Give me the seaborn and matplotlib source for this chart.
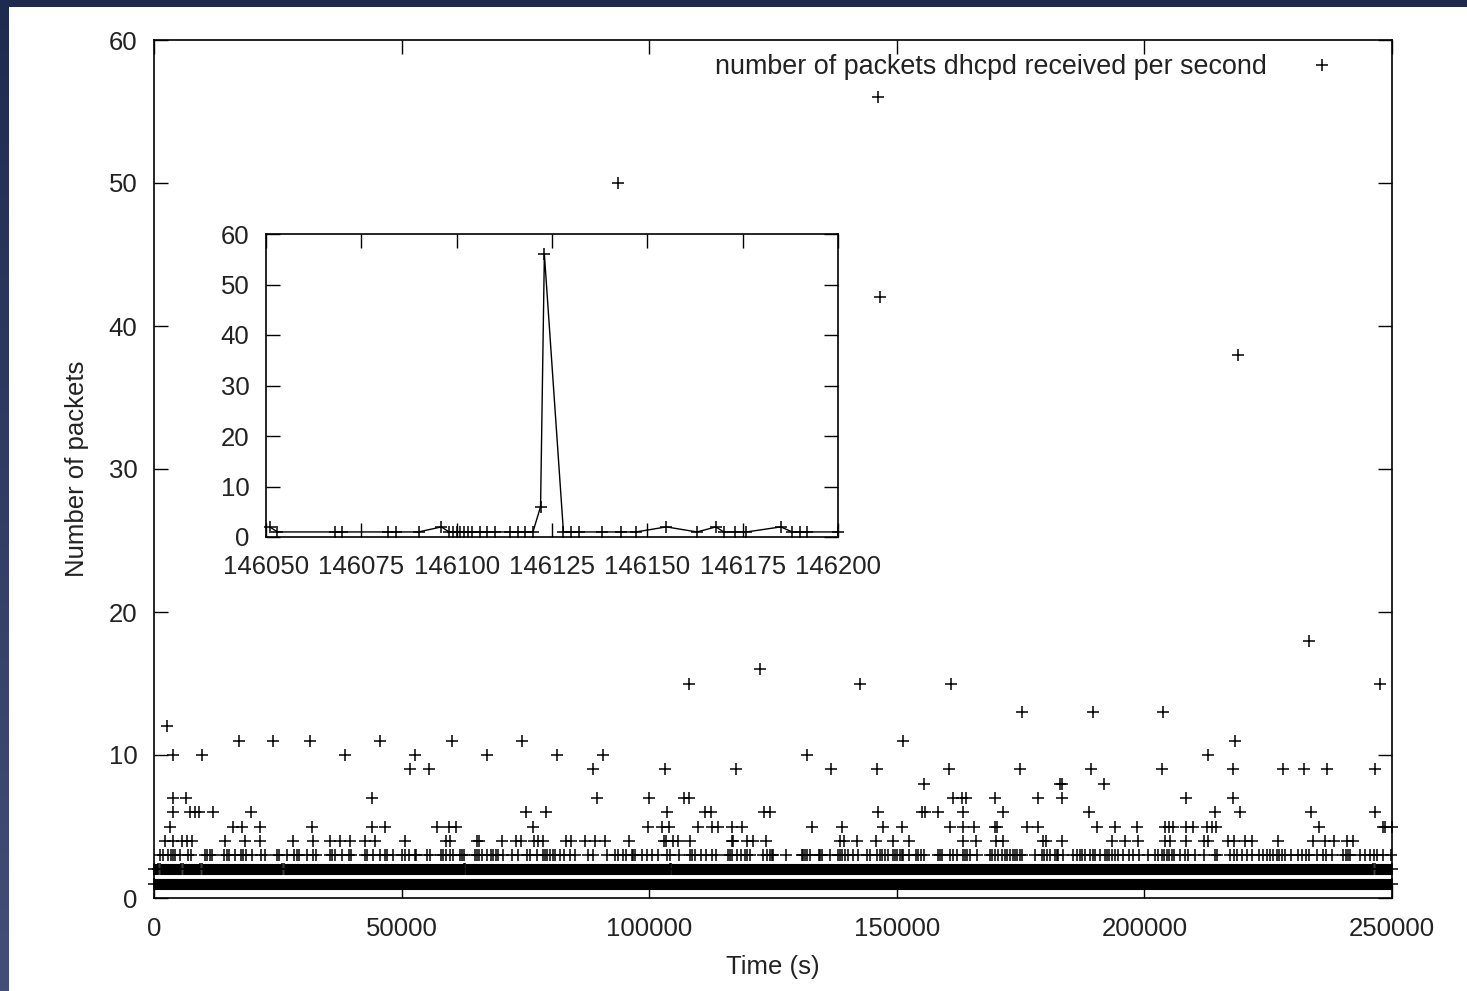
import numpy as np
import pandas as pd
import matplotlib
matplotlib.use("Agg")
import matplotlib.pyplot as plt
from matplotlib.lines import Line2D
from matplotlib.colors import LinearSegmentedColormap
import seaborn as sns

# ---------------- data ----------------
# saturated rows (1 and 2 packets/s): covered time segments
band_n = [1, 2, 2, 2, 2, 2, 2, 2, 2]
band_t0 = [0, 0, 1200, 5800, 9600, 26200, 62900, 104500, 246600]
band_t1 = [250000, 800, 5500, 9300, 25800, 62500, 104100, 246200, 250000]

t_n3 = [1200, 1750, 2900, 3400, 3900, 4300, 5250, 6900, 7400, 10300, 10800, 11300, 11800,
        14100, 14700, 15100, 16400, 17500, 18000, 18600, 19700, 21600, 22400, 24800, 25300,
        26800, 28300, 28800, 29300, 30800, 32200, 32800, 35500, 36000, 36500, 37900, 39400,
        39800, 42600, 43100, 44200, 45600, 46600, 47100, 48300, 50000, 50700, 51400, 52700,
        53000, 55100, 55700, 57900, 58400, 59000, 59800, 60400, 61800, 62200, 62600,
        64800, 65300, 65700, 66200, 67200, 68000, 68500, 69100, 69500, 70400, 72200, 73600,
        75300, 75900, 77300, 78500, 79000, 79400, 80000, 80500, 81000, 82000, 82700, 84000,
        85000, 87700, 88700, 91400, 93100, 93800, 94800, 95400, 96500, 96800, 97100, 98500,
        99500, 100500, 101800, 103500, 104200, 106000, 108200, 108700, 109200, 110400, 111500,
        112600, 113500, 116000, 116300, 116700, 117700, 118500, 119300, 119800, 120400,
        123000, 123700, 124400, 124700, 125100, 127600, 130800, 131100, 131500, 131800,
        132500, 134200, 134500, 134800, 136500, 138200, 138500, 138900, 139500, 140200,
        141200, 142200, 143900, 144600, 146100, 146600, 147100, 147600, 148300, 149300,
        149600, 150000, 150600, 151000, 151300, 152500, 153900, 154300, 154800, 155400,
        158400, 158700, 159100, 160700, 161300, 162100, 163400, 163800, 164100, 164800,
        166100, 168800, 169200, 169800, 170500, 171200, 171800, 172300, 172900, 173400,
        173900, 174300, 174900, 175200, 177900, 179300, 179700, 180300, 180900, 181900,
        182300, 182600, 183600, 185600, 186300, 186900, 187300, 188000, 189000, 189600,
        190000, 191000, 192000, 192500, 192900, 193400, 194100, 194700, 195600, 196800,
        197600, 199000, 200800, 202100, 202800, 203500, 204000, 204500, 205000, 205500,
        206000, 207200, 208200, 208900, 210200, 212000, 214300, 214600, 217300, 218000,
        218600, 219800, 220700, 221700, 223200, 224000, 224700, 225400, 225900, 226700,
        227200, 227800, 228400, 229700, 231100, 231800, 232600, 233300, 234900, 236100,
        236700, 237800, 240200, 240700, 241200, 241500, 243500, 244500, 245600, 246400,
        246900, 248200, 249700]
t_n4 = [2200, 3800, 5600, 6700, 7600, 14300, 18400, 21400, 28100, 32200, 35500, 37600,
        39600, 42600, 44600, 50700, 59000, 59800, 65300, 65700, 70200, 73100, 74200, 76700,
        77600, 78600, 83200, 84200, 87000, 89100, 91100, 96000, 102900, 103300, 104900,
        105900, 108200, 116700, 117000, 119700, 121000, 123600, 138500, 139300, 141900,
        145800, 149300, 152500, 163400, 166000, 170000, 171500, 179600, 180100, 183300,
        193400, 196100, 198800, 204200, 205200, 208500, 212000, 212900, 216900, 218000,
        220300, 221700, 227000, 234100, 236500, 238200, 240900, 242100]
t_n5 = [3200, 16000, 17700, 21400, 32000, 44000, 46600, 57100, 59600, 61000, 76600, 99800,
        102500, 103900, 109800, 112600, 113800, 116700, 118700, 132800, 138900, 147300,
        151100, 160700, 163300, 165500, 169800, 170300, 176200, 178600, 190400, 194100,
        198600, 204200, 205000, 205800, 208500, 209900, 212600, 213600, 214500, 235300,
        248100, 248600, 250000]
t_n6 = [3800, 7300, 8300, 9000, 12000, 19500, 75100, 79100, 103500, 111300, 112400, 123200,
        124400, 146300, 155000, 155700, 158400, 163400, 171500, 188900, 214300, 219300,
        233600, 246600]
t_n7 = [3800, 6500, 44000, 89500, 100000, 107000, 108100, 161300, 163100, 164000, 169800,
        178600, 183300, 208400, 217800]
t_n8 = [155400, 183000, 183300, 191900]
t_n9 = [51700, 55600, 88700, 103200, 117500, 136800, 146100, 160500, 174900, 189200, 203500,
        217800, 227900, 232200, 236900, 246600]
t_n10 = [3900, 9600, 38600, 52800, 67200, 81400, 90700, 131900, 212900]
t_n11 = [17200, 24100, 31600, 45700, 60100, 74400, 151300, 218200]
high_t = [2700, 175300, 189600, 203800, 108000, 142600, 160900, 247600, 122400, 233200,
          218900, 146600, 93700, 146200]
high_n = [12, 13, 13, 13, 15, 15, 15, 15, 16, 18, 38, 42, 50, 56]

# zoom on the burst around t = 146123 s
inset_t = [146051, 146053, 146068, 146070, 146082, 146084, 146090, 146096, 146098, 146099,
           146100, 146101, 146102, 146103, 146104, 146106, 146108, 146110, 146114, 146116,
           146118, 146120, 146122, 146123, 146128, 146130, 146132, 146138, 146143, 146147,
           146155, 146163, 146168, 146170, 146173, 146176, 146185, 146188, 146190, 146192,
           146200]
inset_n = [2, 1, 1, 1, 1, 1, 1, 2, 1, 1,
           1, 1, 1, 1, 1, 1, 1, 1, 1, 1,
           1, 1, 6, 56, 1, 1, 1, 1, 1, 1,
           2, 1, 2, 1, 1, 1, 2, 1, 1, 1,
           1]

x_ticks = [0, 50000, 100000, 150000, 200000, 250000]
x_ticklabels = ["0", "50000", "100000", "150000", "200000", "250000"]
y_ticks = [0, 10, 20, 30, 40, 50, 60]
y_ticklabels = ["0", "10", "20", "30", "40", "50", "60"]
ix_ticks = [146050, 146075, 146100, 146125, 146150, 146175, 146200]
ix_ticklabels = ["146050", "146075", "146100", "146125", "146150", "146175", "146200"]

legend_label = "number of packets dhcpd received per second"
x_label = "Time (s)"
y_label = "Number of packets"

# ---------------- build tables ----------------
rows = []
for n, ts in [(3, t_n3), (4, t_n4), (5, t_n5), (6, t_n6), (7, t_n7), (8, t_n8),
              (9, t_n9), (10, t_n10), (11, t_n11)]:
    rows.append(pd.DataFrame({"t": ts, "n": n}))
rows.append(pd.DataFrame({"t": high_t, "n": high_n}))
pts = pd.concat(rows, ignore_index=True)
ends = pd.DataFrame({"t": band_t0 + band_t1, "n": band_n + band_n})
inset_df = pd.DataFrame({"t": inset_t, "n": inset_n})

# ---------------- style ----------------
sns.set_style("ticks")
plt.rcParams["font.family"] = ["Liberation Sans", "DejaVu Sans"]
FS = 18.5
LEG_FS = 19.4
MS = 8.0
MEW = 1.1

fig = plt.figure(figsize=(14.67, 9.91), dpi=100)
fig.patch.set_facecolor("white")

# navy frame strips (top and left edges of the screenshot)
top = fig.add_axes([0, 1 - 7 / 991, 1, 7 / 991])
top.set_axis_off()
top.add_patch(plt.Rectangle((0, 0), 1, 1, transform=top.transAxes, color="#1f2b4e"))
left = fig.add_axes([0, 0, 9 / 1467, 1])
grad = np.linspace(0, 1, 256).reshape(-1, 1)
cm = LinearSegmentedColormap.from_list("navy", ["#1f2b4e", "#434f78"])
left.imshow(grad, aspect="auto", cmap=cm, extent=[0, 1, 0, 1], origin="upper")
left.set_axis_off()

# main axes
ax = fig.add_axes([154 / 1467, 1 - 898 / 991, 1238 / 1467, 858 / 991])
ax.hlines(band_n, band_t0, band_t1, colors="black", linewidth=MS, capstyle="butt", zorder=2)
sns.scatterplot(data=ends, x="t", y="n", marker="+", s=MS ** 2, color="black",
                linewidth=MEW, clip_on=False, ax=ax, legend=False, zorder=3)
sns.scatterplot(data=pts, x="t", y="n", marker="+", s=MS ** 2, color="black",
                linewidth=MEW, clip_on=False, ax=ax, legend=False, zorder=3)
ax.set_xlim(0, 250000)
ax.set_ylim(0, 60)
ax.set_xticks(x_ticks)
ax.set_xticklabels(x_ticklabels)
ax.set_yticks(y_ticks)
ax.set_yticklabels(y_ticklabels)
ax.tick_params(axis="both", direction="in", length=10, width=1.0, color="black",
               top=True, right=True, labelsize=FS, labelcolor="#222222")
ax.tick_params(axis="x", pad=14)
ax.tick_params(axis="y", pad=12)
for sp in ax.spines.values():
    sp.set_linewidth(1.2)
    sp.set_color("black")
ax.set_xlabel(x_label, fontsize=FS, color="#222222")
ax.set_ylabel(y_label, fontsize=FS, color="#222222")
ax.xaxis.set_label_coords(0.5, (898 - 967) / 858)
ax.xaxis.label.set_va("center")
ax.yaxis.set_label_coords((77 - 154) / 1238, 0.5)
ax.yaxis.label.set_va("center")

handle = Line2D([], [], marker="+", ls="none", color="black", markersize=MS, markeredgewidth=MEW)
ax.legend([handle], [legend_label], loc="upper right", markerfirst=False, frameon=False,
          fontsize=LEG_FS, handlelength=3.0, handletextpad=0.54, borderpad=0, borderaxespad=0,
          bbox_to_anchor=((1362 - 154) / 1238, (898 - 54) / 858))
for txt in ax.get_legend().get_texts():
    txt.set_color("#222222")

# inset axes
axi = fig.add_axes([266 / 1467, 1 - 537 / 991, 572 / 1467, 303 / 991])
axi.set_facecolor("white")
sns.lineplot(data=inset_df, x="t", y="n", estimator=None, color="black", linewidth=1.0,
             marker="+", markersize=MS, markeredgewidth=MEW, markeredgecolor="black",
             clip_on=False, ax=axi)
axi.set_xlim(146050, 146200)
axi.set_ylim(0, 60)
axi.set_xticks(ix_ticks)
axi.set_xticklabels(ix_ticklabels)
axi.set_yticks(y_ticks)
axi.set_yticklabels(y_ticklabels)
axi.tick_params(axis="both", direction="in", length=10, width=1.0, color="black",
                top=True, right=True, labelsize=FS, labelcolor="#222222")
axi.tick_params(axis="x", pad=13)
axi.tick_params(axis="y", pad=12)
axi.set_xlabel("")
axi.set_ylabel("")
for sp in axi.spines.values():
    sp.set_linewidth(1.2)
    sp.set_color("black")

fig.savefig("out.png", dpi=100, facecolor="white")
